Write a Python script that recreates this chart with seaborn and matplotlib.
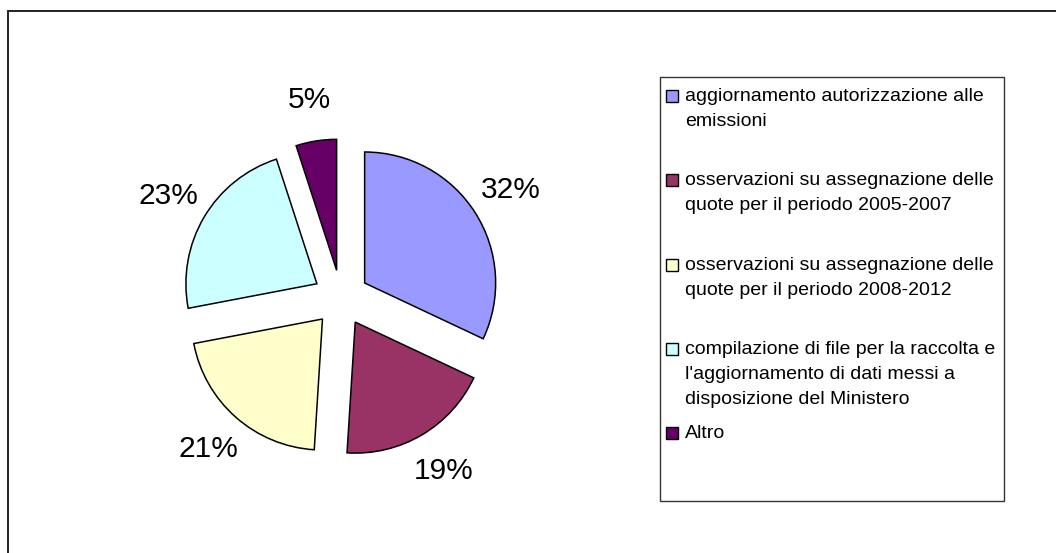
import matplotlib
matplotlib.use("Agg")
import matplotlib.pyplot as plt
from matplotlib.patches import Rectangle
import seaborn as sns

# data
categories = [
    "aggiornamento autorizzazione alle\nemissioni",
    "osservazioni su assegnazione delle\nquote per il periodo 2005-2007",
    "osservazioni su assegnazione delle\nquote per il periodo 2008-2012",
    "compilazione di file per la raccolta e\nl'aggiornamento di dati messi a\ndisposizione del Ministero",
    "Altro",
]
shares = [32, 19, 21, 23, 5]
slice_colors = ["#9999FF", "#993366", "#FFFFCC", "#CCFFFF", "#660066"]

sns.set_style("white")
plt.rcParams["font.family"] = ["Liberation Sans", "DejaVu Sans"]

W, H = 1056, 553
fig = plt.figure(figsize=(W / 100, H / 100), dpi=100)
ax = fig.add_axes([0, 0, 1, 1])

palette = sns.color_palette(slice_colors)
wedges, texts, autotexts = ax.pie(
    shares,
    colors=palette,
    startangle=90,
    counterclock=False,
    center=(341, H - 298),
    radius=131,
    explode=[28] * len(shares),
    autopct="%1.0f%%",
    pctdistance=1.32,
    wedgeprops=dict(edgecolor="black", linewidth=1.1),
    textprops=dict(fontsize=21.5, color="black"),
)

ax.set_aspect("auto")
ax.set_xlim(0, W)
ax.set_ylim(0, H)
ax.axis("off")

# chart area frame (runs off the right and bottom edges)
ax.add_patch(Rectangle((8, -20), W + 40, H - 11 + 20, fill=False,
                       edgecolor="#222222", linewidth=1.4))

# legend box, entries in equal slots, handle next to the first line
ax.add_patch(Rectangle((660, H - 501), 344, 424, fill=False,
                       edgecolor="#333333", linewidth=1.0))
for i, (lab, col) in enumerate(zip(categories, palette)):
    base = H - (101 + i * 84.3)
    ax.add_patch(Rectangle((666, base - 1), 12, 12, facecolor=col,
                           edgecolor="black", linewidth=1.0))
    for j, line in enumerate(lab.split("\n")):
        ax.text(685, base - j * 25, line, fontsize=14, va="baseline",
                ha="left", color="black")

fig.savefig("out.png", dpi=100)
